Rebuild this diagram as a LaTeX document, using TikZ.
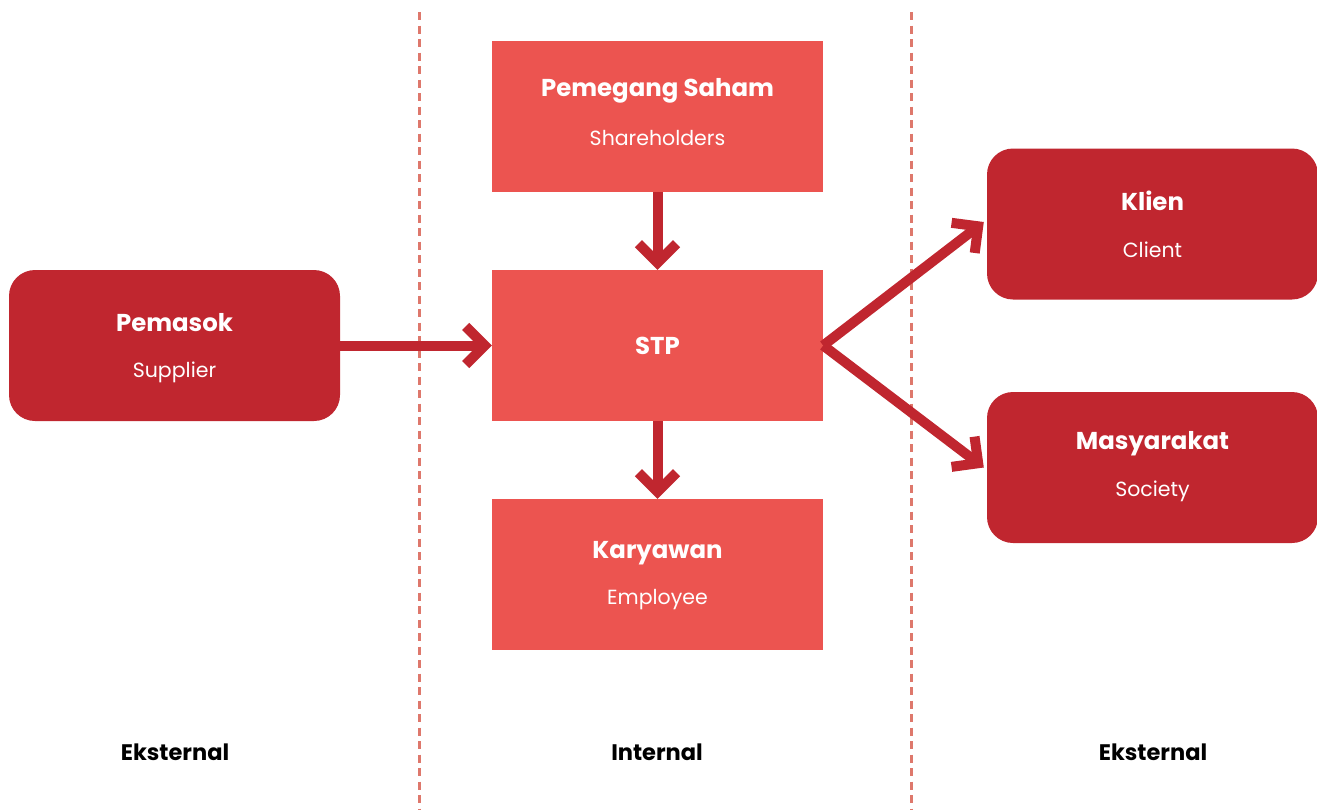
\documentclass[tikz,border=0pt]{standalone}
\usepackage{fontspec}
\setmainfont{Poppins}
\usetikzlibrary{arrows.meta}
\definecolor{boxlight}{RGB}{236,84,80}
\definecolor{boxdark}{RGB}{192,38,47}
\definecolor{divider}{RGB}{222,120,108}
\tikzset{
  inner/.style={fill=boxlight, minimum width=331pt, minimum height=151pt, inner sep=0pt},
  outer/.style={fill=boxdark, rounded corners=26pt, minimum width=331pt, minimum height=151pt, inner sep=0pt},
  title/.style={text=white, font=\fontsize{24.4}{28}\selectfont\bfseries},
  subtitle/.style={text=white, font=\fontsize{20.5}{24}\selectfont},
  zone/.style={font=\fontsize{22.5}{26}\selectfont\bfseries, text=black},
  flow/.style={draw=boxdark, line width=10pt, -{Straight Barb[length=19pt, width=38pt, line width=10pt]}},
  sep/.style={draw=divider, line width=3pt, dash pattern=on 8pt off 5.5pt}
}
\begin{document}
\begin{tikzpicture}[x=1pt, y=-1pt]
\useasboundingbox (0,0) rectangle (1317,809);
% column separators
\draw[sep] (419,12) -- (419,809);
\draw[sep] (911,12) -- (911,809);
% internal parties
\node[inner] (saham) at (657.5,116.5) {};
\node[inner] (stp) at (657.5,345.5) {};
\node[inner] (karyawan) at (657.5,574.5) {};
% external parties
\node[outer] (pemasok) at (174.5,345.5) {};
\node[outer] (klien) at (1152.5,224) {};
\node[outer] (masyarakat) at (1152.5,467.5) {};
% box texts
\node[title] at (657.5,91) {Pemegang Saham};
\node[subtitle] at (657.5,138) {Shareholders};
\node[title] at (657.5,346) {STP};
\node[title] at (657.5,553) {Karyawan};
\node[subtitle] at (657.5,600) {Employee};
\node[title] at (174.5,323) {Pemasok};
\node[subtitle] at (174.5,372) {Supplier};
\node[title] at (1152.5,201) {Klien};
\node[subtitle] at (1152.5,250) {Client};
\node[title] at (1152.5,444) {Masyarakat};
\node[subtitle] at (1152.5,491) {Society};
% zone labels
\node[zone] (ekst1) at (175,752) {Eksternal};
\node[zone] (int) at (657,752) {Internal};
\node[zone] (ekst2) at (1153,752) {Eksternal};
% connectors
\draw[flow] (pemasok.east) -- (stp.west);
\draw[flow] (saham.south) -- (stp.north);
\draw[flow] (stp.south) -- (karyawan.north);
\coordinate (hub) at (stp.east);
\draw[flow] (hub) -- ([xshift=-3pt,yshift=2pt]klien.west);
\draw[flow] (hub) -- ([xshift=-3pt,yshift=0pt]masyarakat.west);
\end{tikzpicture}
\end{document}
